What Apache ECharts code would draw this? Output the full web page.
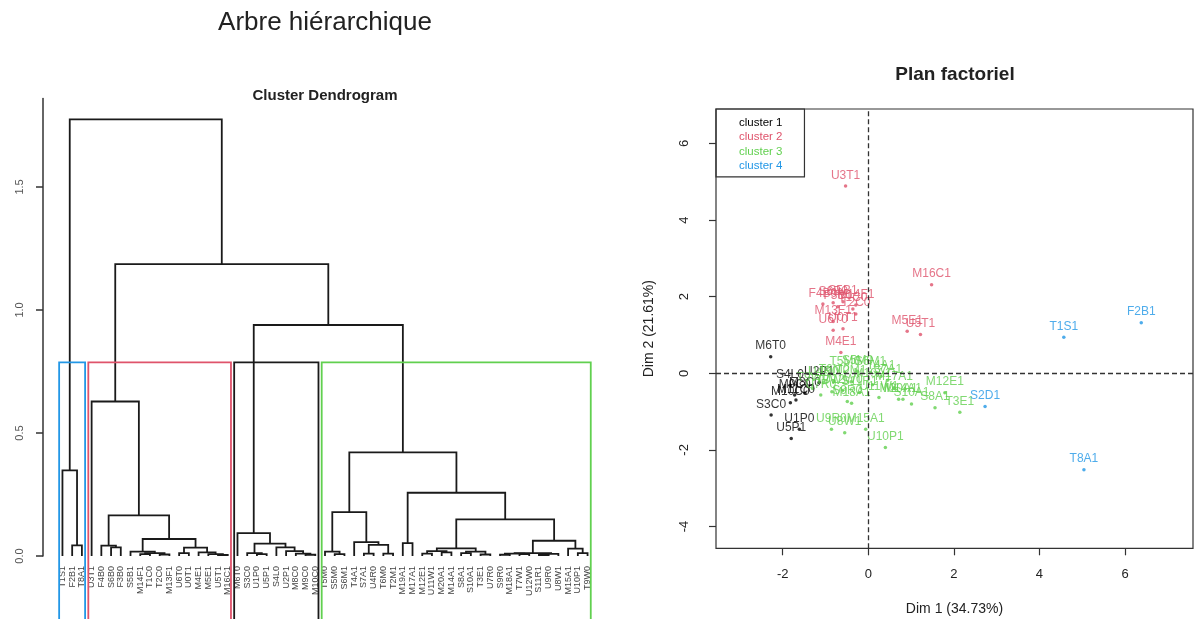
<!DOCTYPE html>
<html>
<head>
<meta charset="utf-8">
<title>Arbre hiérarchique</title>
<script src="https://cdn.jsdelivr.net/npm/echarts@6/dist/echarts.min.js"></script>
<style>
html, body { margin: 0; padding: 0; background: #fff; }
#main { width: 1196px; height: 619px; }
</style>
</head>
<body>
<div id="main"></div>
<script>
const FONT = 'Liberation Sans, Arial, Helvetica, sans-serif'

// dendrogram leaves, left to right
const leafNames = [
    'T1S1', 'F2B1', 'T8A1',
    'U3T1', 'F4B0', 'S6B0', 'F3B0', 'S5B1', 'M14F1', 'T1C0', 'T2C0', 'M13F1', 'U6T0', 'U0T1', 'M4E1', 'M5E1', 'U5T1', 'M16C1',
    'M6T0', 'S3C0', 'U1P0', 'U5P1', 'S4L0', 'U2P1', 'M8C0', 'M9C0', 'M10C0',
    'T5M0', 'S5M0', 'S6M1', 'T4A1', 'S7A1', 'U4R0', 'T6M0', 'T2M1', 'M19A1', 'M17A1', 'M12E1', 'U11W1', 'M20A1', 'M14A1',
    'S8A1', 'S10A1', 'T3E1', 'U7R0', 'S9R0', 'M18A1', 'T7W1', 'U12W0', 'S11R1', 'U9R0', 'U8W1', 'M15A1', 'U10P1', 'T9W0'
]

// merges as [left, right, height]; a number is a leaf position
const blueTree = [0, [1, 2, 0.043], 0.348]

const redLeft = [4, [5, 6, 0.035], 0.042]
const redA = [7, [[8, 9, 0.008], [10, 11, 0.006], 0.012], 0.018]
const redB = [[12, 13, 0.012], [14, [15, [16, 17, 0.004], 0.008], 0.015], 0.034]
const redTree = [3, [redLeft, [redA, redB, 0.069], 0.165], 0.628]

const blackA = [19, [20, 21, 0.008], 0.012]
const blackB = [22, [23, [24, [25, 26, 0.005], 0.01], 0.02], 0.035]
const blackTree = [18, [blackA, blackB, 0.05], 0.093]

const greenA = [27, [28, 29, 0.008], 0.018]
const greenB = [30, [[31, 32, 0.01], [33, 34, 0.01], 0.045], 0.056]
const greenC = [35, 36, 0.052]
const greenD = [[[37, 38, 0.01], [39, 40, 0.015], 0.02], [[41, 42, 0.012], [43, 44, 0.006], 0.018], 0.031]
const greenE = [[[45, 46, 0.005], [47, 48, 0.008], 0.01], [[49, 50, 0.004], 51, 0.009], 0.012]
const greenF = [52, [53, 54, 0.012], 0.03]
const greenTree = [[greenA, greenB, 0.178], [greenC, [greenD, [greenE, greenF, 0.062], 0.149], 0.257], 0.421]

const rootTree = [blueTree, [redTree, [blackTree, greenTree, 0.939], 1.186], 1.775]

// rect.hclust boxes (first leaf, last leaf) and cut height
const clusterRanges = [[0, 2], [3, 17], [18, 26], [27, 54]]
const cutHeight = 0.787
const dendroTicks = [0, 0.5, 1, 1.5]

// individuals on the factorial plane: [name, dim 1, dim 2]
const cluster1 = [
    ['M6T0', -2.28, 0.43], ['S4L0', -1.83, -0.31], ['U2P1', -1.15, -0.24], ['M9C0', -1.72, -0.57],
    ['M8C0', -1.48, -0.52], ['M10C0', -1.82, -0.77], ['M11C0', -1.69, -0.70], ['S3C0', -2.27, -1.09],
    ['U1P0', -1.61, -1.46], ['U5P1', -1.80, -1.70]
]
const cluster2 = [
    ['U3T1', -0.53, 4.89], ['M16C1', 1.48, 2.31], ['M5E1', 0.91, 1.10], ['U5T1', 1.22, 1.01],
    ['M4E1', -0.64, 0.54], ['U6T0', -0.82, 1.12], ['U0T1', -0.59, 1.16], ['M13F1', -0.82, 1.35],
    ['F4B0', -1.06, 1.81], ['S6B0', -0.82, 1.84], ['F3B0', -0.71, 1.74], ['S5B1', -0.59, 1.87],
    ['T1C0', -0.36, 1.68], ['M14F1', -0.29, 1.78], ['T2C0', -0.29, 1.55]
]
const cluster3 = [
    ['T5M0', -0.55, 0.03], ['S5M0', -0.25, 0.05], ['S6M1', 0.05, 0.02], ['T4A1', 0.30, -0.08],
    ['S7A1', 0.45, -0.18], ['U4R0', -1.05, -0.25], ['T6M0', -0.80, -0.20], ['T2M1', -0.40, -0.22],
    ['M19A1', 0.10, -0.30], ['M17A1', 0.60, -0.38], ['M12E1', 1.79, -0.51], ['U11W1', 0.25, -0.63],
    ['M20A1', 0.71, -0.68], ['M14A1', 0.81, -0.68], ['S8A1', 1.56, -0.90], ['S10A1', 1.01, -0.80],
    ['T3E1', 2.14, -1.02], ['U7R0', -1.11, -0.57], ['S9R0', -0.49, -0.74], ['M18A1', -0.39, -0.78],
    ['T7W1', -0.85, -0.48], ['U12W0', -0.60, -0.45], ['S11R1', -0.20, -0.50], ['U9R0', -0.86, -1.46],
    ['U8W1', -0.55, -1.55], ['M15A1', -0.06, -1.46], ['U10P1', 0.40, -1.94], ['T9W0', -1.30, -0.40]
]
const cluster4 = [
    ['F2B1', 6.38, 1.32], ['T1S1', 4.57, 0.94], ['S2D1', 2.73, -0.87], ['T8A1', 5.04, -2.52]
]
const clusterNames = ['cluster 1', 'cluster 2', 'cluster 3', 'cluster 4']
const dimTicksX = [-2, 0, 2, 4, 6]
const dimTicksY = [-4, -2, 0, 2, 4, 6]

const pointColors = ['#000000', '#DF536B', '#61D04F', '#2297E6']
const boxColors = ['#2297E6', '#DF536B', '#1a1a1a', '#61D04F']

// dendrogram layout: one bracket per merge
let segments = []
function walk(node) {
    if (typeof node === 'number') return { x: node, h: 0 }
    let l = walk(node[0])
    let r = walk(node[1])
    segments.push([l.x, l.h, r.x, r.h, node[2]])
    return { x: (l.x + r.x) / 2, h: node[2] }
}
walk(rootTree)

let scatterSeries = [cluster1, cluster2, cluster3, cluster4].map((pts, k) => ({
    name: clusterNames[k],
    type: 'scatter',
    xAxisIndex: 1,
    yAxisIndex: 1,
    symbolSize: 3.5,
    silent: true,
    itemStyle: { color: pointColors[k] },
    label: { show: true, position: 'top', distance: 3, formatter: '{b}', fontSize: 12, fontFamily: FONT, color: pointColors[k] },
    data: pts.map(p => ({ name: p[0], value: [p[1], p[2]] }))
}))
scatterSeries[0].markLine = {
    silent: true,
    symbol: ['none', 'none'],
    label: { show: false },
    lineStyle: { color: '#333', type: [5, 3], width: 1.3 },
    data: [{ xAxis: 0 }, { yAxis: 0 }]
}

let myChart = echarts.init(document.getElementById('main'))
let option = {
    animation: false,
    textStyle: { fontFamily: FONT },
    graphic: [
        { type: 'text', x: 325, y: 23, style: { text: 'Arbre hiérarchique', fontSize: 26, fontFamily: FONT, fill: '#222', align: 'center', verticalAlign: 'middle' } },
        { type: 'text', x: 325, y: 96, style: { text: 'Cluster Dendrogram', fontSize: 15, fontWeight: 'bold', fontFamily: FONT, fill: '#222', align: 'center', verticalAlign: 'middle' } },
        { type: 'text', x: 955, y: 75, style: { text: 'Plan factoriel', fontSize: 19, fontWeight: 'bold', fontFamily: FONT, fill: '#222', align: 'center', verticalAlign: 'middle' } }
    ],
    legend: {
        orient: 'vertical',
        left: 716,
        top: 109,
        padding: [7, 22, 4, 17],
        itemGap: 0,
        itemWidth: 1,
        itemHeight: 1,
        icon: 'circle',
        itemStyle: { opacity: 0 },
        borderColor: '#333',
        borderWidth: 1.2,
        selectedMode: false,
        textStyle: { fontSize: 11.5, lineHeight: 14.2, fontFamily: FONT },
        data: clusterNames.map((n, k) => ({ name: n, textStyle: { color: pointColors[k] } }))
    },
    grid: [
        { left: 43, top: 98.4, width: 564, height: 457.6, outerBoundsMode: 'none' },
        { left: 716, top: 109, width: 477, height: 439.3, show: true, borderColor: '#333', borderWidth: 1.2, outerBoundsMode: 'none' }
    ],
    xAxis: [
        { gridIndex: 0, type: 'value', min: -2, max: 56, show: false, axisLine: { onZero: false } },
        {
            gridIndex: 1, type: 'value', min: -3.558, max: 7.589,
            axisLine: { show: false, onZero: false },
            axisTick: { show: true, length: 7, customValues: dimTicksX, lineStyle: { color: '#333', width: 1.2 } },
            axisLabel: { customValues: dimTicksX, margin: 20, fontSize: 13, color: '#222' },
            splitLine: { show: false },
            name: 'Dim 1 (34.73%)', nameLocation: 'middle', nameGap: 54,
            nameTextStyle: { fontSize: 14, color: '#222' }
        }
    ],
    yAxis: [
        {
            gridIndex: 0, type: 'value', min: 0, max: 1.86,
            axisLine: { show: true, onZero: false, lineStyle: { color: '#333', width: 1.5 } },
            axisTick: { show: true, length: 7, customValues: dendroTicks, lineStyle: { color: '#333', width: 1.5 } },
            axisLabel: { customValues: dendroTicks, rotate: 90, margin: 18, fontSize: 11, color: '#555', formatter: v => v.toFixed(1) },
            splitLine: { show: false }
        },
        {
            gridIndex: 1, type: 'value', min: -4.57, max: 6.90,
            axisLine: { show: false, onZero: false },
            axisTick: { show: true, length: 7, customValues: dimTicksY, lineStyle: { color: '#333', width: 1.2 } },
            axisLabel: { customValues: dimTicksY, rotate: 90, margin: 25, fontSize: 13, color: '#222' },
            splitLine: { show: false },
            name: 'Dim 2 (21.61%)', nameLocation: 'middle', nameGap: 60,
            nameTextStyle: { fontSize: 14, color: '#222' }
        }
    ],
    series: [
        {
            type: 'custom',
            xAxisIndex: 0,
            yAxisIndex: 0,
            silent: true,
            data: segments,
            encode: { x: [0, 2], y: [1, 3, 4] },
            renderItem: (params, api) => {
                let a = api.coord([api.value(0), api.value(1)])
                let b = api.coord([api.value(0), api.value(4)])
                let c = api.coord([api.value(2), api.value(4)])
                let d = api.coord([api.value(2), api.value(3)])
                return {
                    type: 'polyline',
                    shape: { points: [a, b, c, d] },
                    style: { stroke: '#1a1a1a', lineWidth: 1.8, fill: null }
                }
            }
        },
        {
            type: 'custom',
            xAxisIndex: 0,
            yAxisIndex: 0,
            silent: true,
            data: leafNames.map((n, i) => [i, 0]),
            encode: { x: 0, y: 1 },
            renderItem: (params, api) => {
                let p = api.coord([api.value(0), 0])
                return {
                    type: 'text',
                    x: p[0],
                    y: p[1] + 10,
                    rotation: Math.PI / 2,
                    style: {
                        text: leafNames[params.dataIndex],
                        align: 'right', verticalAlign: 'middle',
                        fontSize: 9, fontFamily: FONT, fill: '#444'
                    }
                }
            }
        },
        {
            type: 'custom',
            xAxisIndex: 0,
            yAxisIndex: 0,
            silent: true,
            clip: false,
            data: clusterRanges.map(r => [r[0] - 0.34, r[1] + 0.33, cutHeight, -0.27]),
            encode: { x: [0, 1], y: [2, 3] },
            renderItem: (params, api) => {
                let tl = api.coord([api.value(0), api.value(2)])
                let br = api.coord([api.value(1), api.value(3)])
                return {
                    type: 'rect',
                    shape: { x: tl[0], y: tl[1], width: br[0] - tl[0], height: br[1] - tl[1] },
                    style: { stroke: boxColors[params.dataIndex], fill: null, lineWidth: 1.8 }
                }
            }
        }
    ].concat(scatterSeries)
}

if (option && typeof option === 'object') {
    myChart.setOption(option, true)
}
</script>
</body>
</html>
